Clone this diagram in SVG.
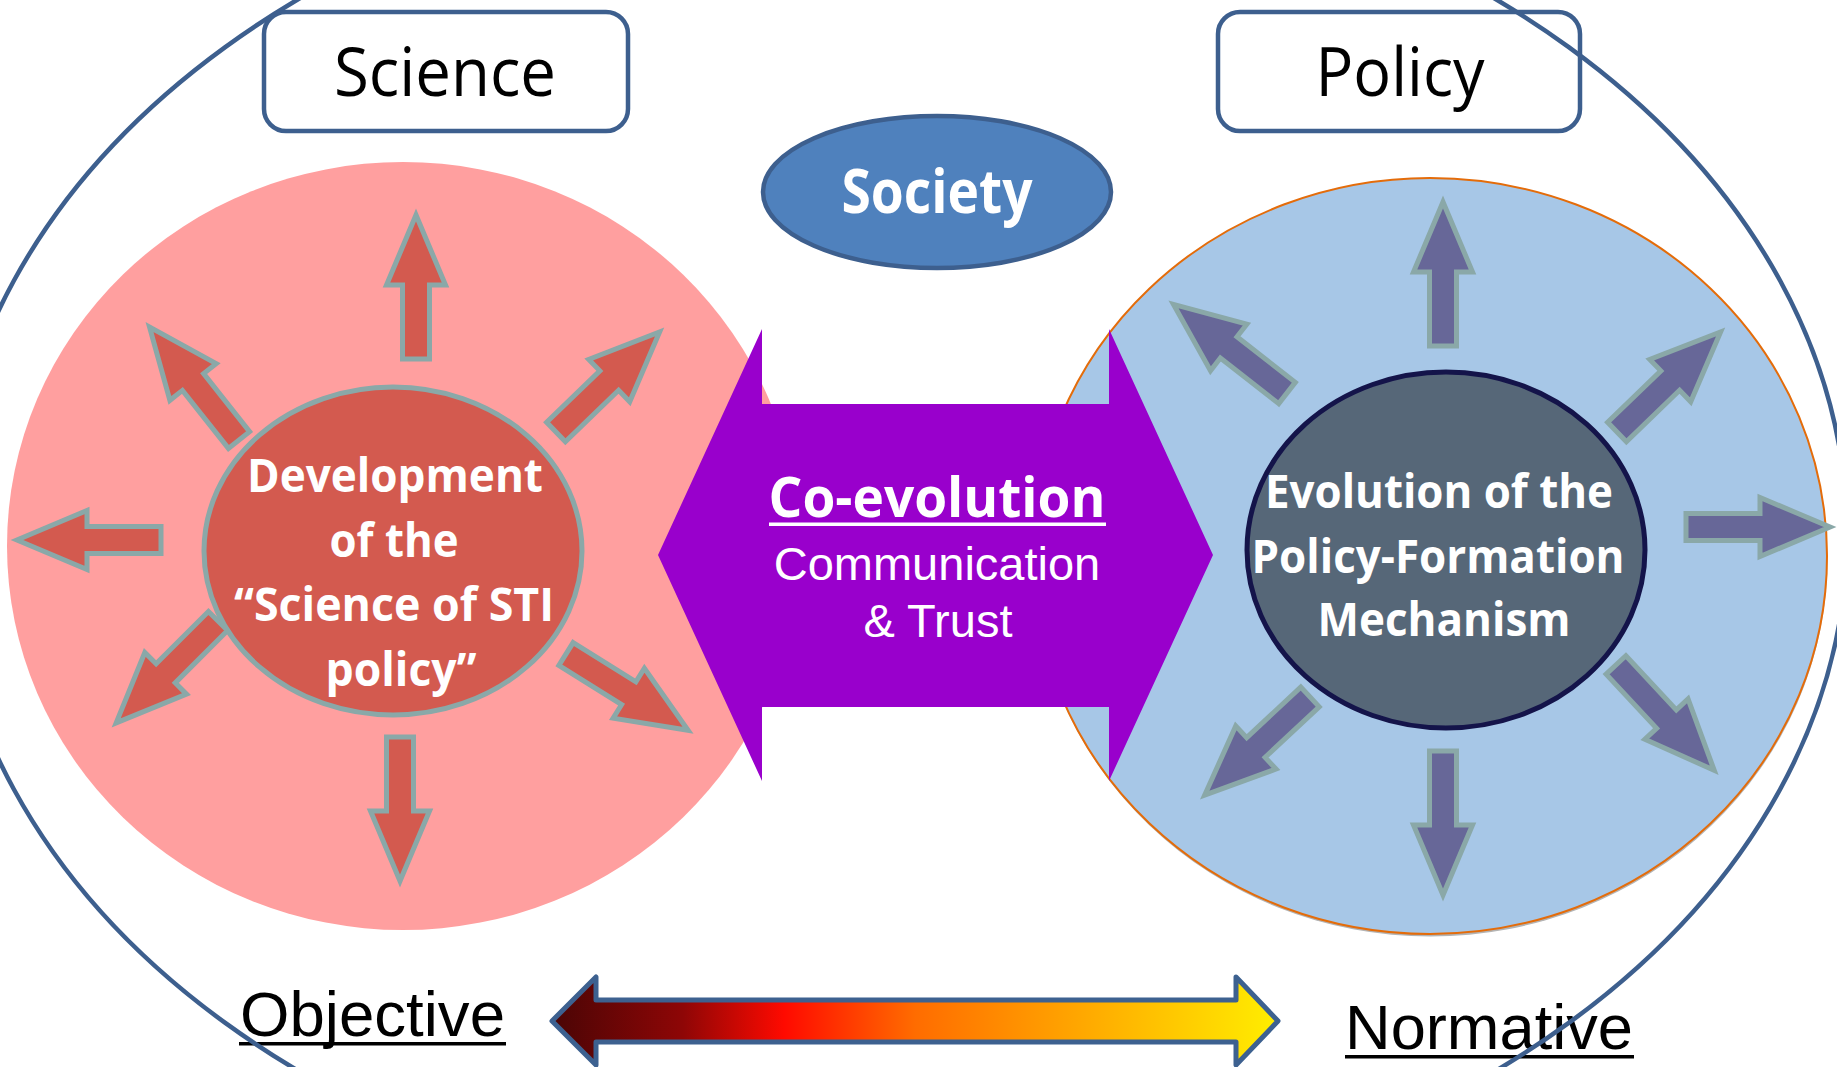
<svg xmlns="http://www.w3.org/2000/svg" xmlns:xlink="http://www.w3.org/1999/xlink" width="1837" height="1067" viewBox="0 0 1837 1067">
<style>
.cal{font-family:"Open Sans","Noto Sans",sans-serif;}
.b{font-weight:700;}
.ari{font-family:"Liberation Sans",Arial,sans-serif;}
.wt{fill:#ffffff;}
.box{fill:#ffffff;stroke:#3d5f8e;stroke-width:4.5;}
.red{fill:#d35a4f;stroke:#8aa8a8;stroke-width:5;}
.blu{fill:#676798;stroke:#8aa8a8;stroke-width:5;}
</style>
<defs>
<polygon id="arr" points="0,-13.5 74,-13.5 74,-29.5 144,0 74,29.5 74,13.5 0,13.5"/>
<linearGradient id="grad" x1="552" y1="0" x2="1278" y2="0" gradientUnits="userSpaceOnUse">
<stop offset="0" stop-color="#4a0505"/>
<stop offset="0.18" stop-color="#8e0606"/>
<stop offset="0.32" stop-color="#ff0a00"/>
<stop offset="0.5" stop-color="#ff6c00"/>
<stop offset="0.7" stop-color="#ffa000"/>
<stop offset="1" stop-color="#ffee00"/>
</linearGradient>
</defs>

<g id="science-sphere">
<ellipse cx="403" cy="546" rx="396" ry="384" fill="#ff9f9f"/>
</g>
<g id="policy-sphere">
<ellipse cx="1430.5" cy="558.5" rx="397" ry="378" fill="#b4b4b4"/>
<ellipse cx="1430" cy="556" rx="397" ry="378" fill="#a7c7e7" stroke="#e46c0a" stroke-width="2"/>
</g>

<g id="science-arrows">
<use xlink:href="#arr" class="red" transform="translate(416,359) rotate(-90)"/>
<use xlink:href="#arr" class="red" transform="translate(400,737) rotate(90)"/>
<use xlink:href="#arr" class="red" transform="translate(161,540) rotate(180)"/>
<use xlink:href="#arr" class="red" transform="translate(239,440) rotate(-128.4)"/>
<use xlink:href="#arr" class="red" transform="translate(556,432) rotate(-44)"/>
<use xlink:href="#arr" class="red" transform="translate(218,621) rotate(135)"/>
<use xlink:href="#arr" class="red" transform="translate(566,654) rotate(32)"/>
</g>
<g id="policy-arrows">
<use xlink:href="#arr" class="blu" transform="translate(1443,346) rotate(-90)"/>
<use xlink:href="#arr" class="blu" transform="translate(1443,751) rotate(90)"/>
<use xlink:href="#arr" class="blu" transform="translate(1686,527) rotate(0)"/>
<use xlink:href="#arr" class="blu" transform="translate(1287,393) rotate(-142)"/>
<use xlink:href="#arr" class="blu" transform="translate(1617,432) rotate(-44)"/>
<use xlink:href="#arr" class="blu" transform="translate(1310,697) rotate(137)"/>
<use xlink:href="#arr" class="blu" transform="translate(1616,665) rotate(47)"/>
</g>

<g id="development">
<ellipse cx="393" cy="551" rx="189" ry="164" fill="#d35a4f" stroke="#8aa8a8" stroke-width="5"/>
<text class="cal b wt" font-size="46" text-anchor="middle">
<tspan x="401" y="492" textLength="296" lengthAdjust="spacingAndGlyphs">Development</tspan>
<tspan x="400" y="557" textLength="129" lengthAdjust="spacingAndGlyphs">of the</tspan>
<tspan x="400" y="621" textLength="320" lengthAdjust="spacingAndGlyphs">“Science of STI</tspan>
<tspan x="401" y="686" textLength="151" lengthAdjust="spacingAndGlyphs">policy”</tspan>
</text>
</g>

<g id="evolution">
<ellipse cx="1446" cy="550" rx="199" ry="178" fill="#566778" stroke="#14144a" stroke-width="5"/>
<text class="cal b wt" font-size="46" text-anchor="middle">
<tspan x="1445" y="508" textLength="348" lengthAdjust="spacingAndGlyphs">Evolution of the</tspan>
<tspan x="1444" y="573" textLength="373" lengthAdjust="spacingAndGlyphs">Policy-Formation</tspan>
<tspan x="1444" y="636" textLength="253" lengthAdjust="spacingAndGlyphs">Mechanism</tspan>
</text>
</g>

<g id="connectors">
<polygon id="co-evolution-arrow" points="658,555 762,329 762,404 1109,404 1109,329 1213,555 1109,781 1109,707 762,707 762,781" fill="#9900cc"/>
<polygon id="scale-arrow" points="552,1021 596,977 596,1000 1236,1000 1236,977 1278,1021 1236,1065 1236,1042 596,1042 596,1065" fill="url(#grad)" stroke="#3d6190" stroke-width="5" stroke-linejoin="round"/>
</g>

<g id="co-evolution-label">
<text class="cal b wt" font-size="56" x="937" y="517" text-anchor="middle" textLength="337" lengthAdjust="spacingAndGlyphs">Co-evolution</text>
<rect x="769" y="522.5" width="337" height="3.5" fill="#ffffff"/>
<text class="ari wt" font-size="47" text-anchor="middle"><tspan x="937" y="580">Communication</tspan><tspan x="938" y="637">&amp; Trust</tspan></text>
</g>

<g id="society">
<ellipse cx="937" cy="192" rx="174" ry="76" fill="#4f81bd" stroke="#3d5f8e" stroke-width="4.5"/>
<text class="cal b wt" font-size="60" x="937" y="213" text-anchor="middle" textLength="191" lengthAdjust="spacingAndGlyphs">Society</text>
</g>

<g id="policy">
<rect class="box" x="1218" y="12" width="362" height="119" rx="22"/>
<text class="cal" font-size="67" x="1400" y="96" text-anchor="middle" textLength="169" lengthAdjust="spacingAndGlyphs">Policy</text>
</g>

<g id="normative">
<text class="ari" font-size="63" x="1345" y="1049" textLength="288" lengthAdjust="spacingAndGlyphs">Normative</text>
<rect x="1345" y="1055" width="289" height="3.5" fill="#000000"/>
</g>
<g id="objective">
<text class="ari" font-size="63" x="240" y="1036" textLength="265" lengthAdjust="spacingAndGlyphs">Objective</text>
<rect x="239" y="1042" width="267" height="3.5" fill="#000000"/>
</g>

<g id="frame">
<ellipse cx="897" cy="535" rx="950" ry="690" fill="none" stroke="#3d5f8e" stroke-width="4.5"/>
</g>

<g id="science">
<rect class="box" x="264" y="12" width="364" height="119" rx="22"/>
<text class="cal" font-size="67" x="445" y="96" text-anchor="middle" textLength="222" lengthAdjust="spacingAndGlyphs">Science</text>
</g>
</svg>
